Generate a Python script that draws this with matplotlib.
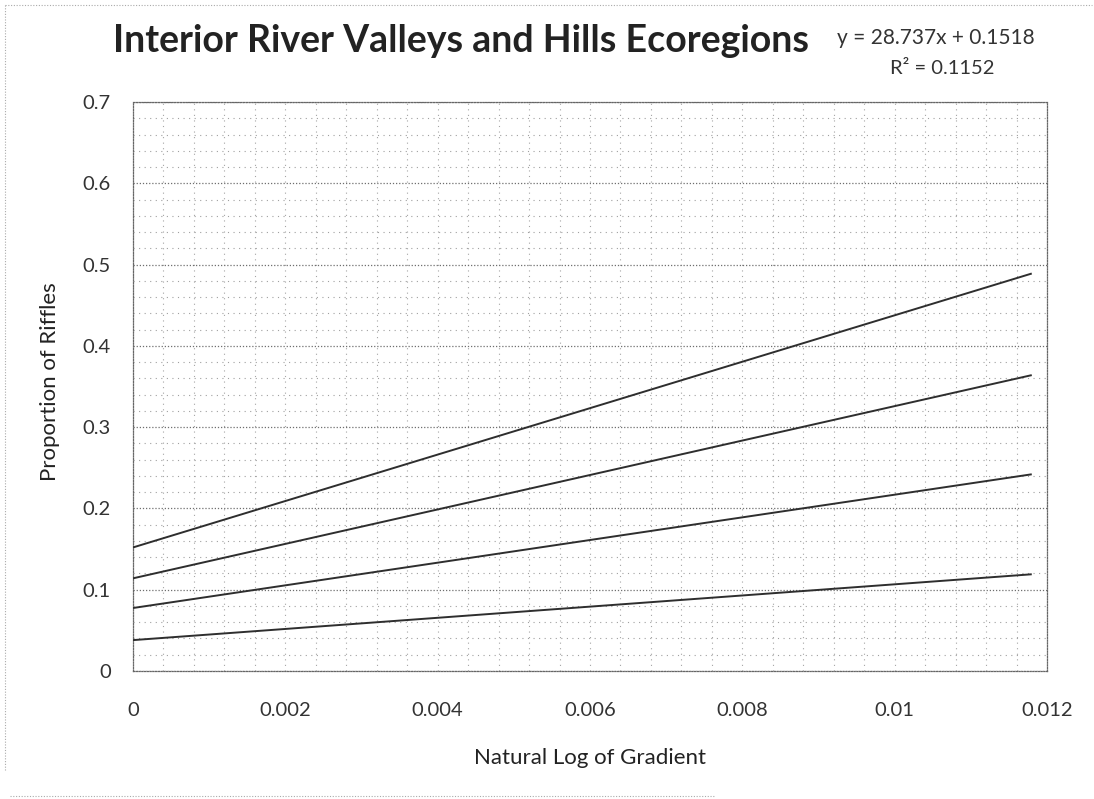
import matplotlib
matplotlib.use('Agg')
import matplotlib.pyplot as plt
from matplotlib.ticker import MultipleLocator, FixedLocator
from matplotlib.lines import Line2D

# ---- data ----
x_vals = [0.0, 0.0118]
series_1 = [0.152, 0.489]
series_2 = [0.114, 0.364]
series_3 = [0.0775, 0.242]
series_4 = [0.038, 0.119]
x_ticks = [0, 0.002, 0.004, 0.006, 0.008, 0.010, 0.012]
x_tick_labels = ['0', '0.002', '0.004', '0.006', '0.008', '0.01', '0.012']
y_ticks = [0, 0.1, 0.2, 0.3, 0.4, 0.5, 0.6, 0.7]
y_tick_labels = ['0', '0.1', '0.2', '0.3', '0.4', '0.5', '0.6', '0.7']
title = 'Interior River Valleys and Hills Ecoregions'
equation = 'y = 28.737x + 0.1518'
r_squared = 'R² = 0.1152'
x_label = 'Natural Log of Gradient'
y_label = 'Proportion of Riffles'

FONT = ['Lato', 'DejaVu Sans']
plt.rcParams['font.family'] = FONT

fig = plt.figure(figsize=(10.94, 7.99), dpi=100)
W, H = 1094, 799
ax = fig.add_axes([133 / W, 1 - 671 / H, (1047 - 133) / W, (671 - 102) / H])

for ys in (series_1, series_2, series_3, series_4):
    ax.plot(x_vals, ys, color='#2e2e2e', lw=1.4, solid_capstyle='butt', zorder=3)

ax.set_xlim(0, 0.012)
ax.set_ylim(0, 0.7)
ax.xaxis.set_major_locator(FixedLocator(x_ticks))
ax.set_xticklabels(x_tick_labels)
ax.yaxis.set_major_locator(FixedLocator(y_ticks))
ax.set_yticklabels(y_tick_labels)
ax.xaxis.set_minor_locator(MultipleLocator(0.0004))
ax.yaxis.set_minor_locator(MultipleLocator(0.02))

ax.tick_params(axis='both', which='both', length=0, labelsize=14.5, labelcolor='#333333')
ax.tick_params(axis='y', pad=16)
ax.tick_params(axis='x', pad=22)

ax.grid(which='major', axis='y', color='#6f6f6f', linestyle=(0, (1, 1.5)), lw=0.9)
ax.grid(which='minor', axis='y', color='#a0a0a0', linestyle=(0, (1, 4)), lw=0.8)
ax.grid(which='both', axis='x', color='#a5a5a5', linestyle=(0, (1, 4)), lw=0.8)
ax.set_axisbelow(True)

for side in ('left', 'bottom', 'top', 'right'):
    ax.spines[side].set_linestyle((0, (1, 1.2)))
    ax.spines[side].set_color('#666666')
    ax.spines[side].set_linewidth(0.9)

fig.text(50 / W, 1 - 382 / H, y_label, rotation=90, ha='center', va='center',
         fontsize=16, color='#222222')
fig.text(590 / W, 1 - 758 / H, x_label, ha='center', va='center',
         fontsize=16, color='#222222')

fig.text(461 / W, 1 - 52 / H, title, ha='center', va='baseline',
         fontsize=27, fontweight='bold', color='#222222')
fig.text(936 / W, 1 - 38 / H, equation, ha='center', va='center',
         fontsize=15, color='#333333')
fig.text(942 / W, 1 - 68 / H, r_squared, ha='center', va='center',
         fontsize=14.5, color='#333333')

# scanned page frame remnants
frame_kw = dict(color='#aaaaaa', lw=0.8, linestyle=(0, (1, 1.5)))
fig.add_artist(Line2D([5 / W, 5 / W], [1 - 5 / H, 1 - 770 / H], **frame_kw))
fig.add_artist(Line2D([5 / W, 1 - 2 / W], [1 - 5 / H, 1 - 5 / H], **frame_kw))
fig.add_artist(Line2D([10 / W, 715 / W], [1 - 796 / H, 1 - 796 / H], **frame_kw))

fig.savefig('out.png', dpi=100, facecolor='white')
